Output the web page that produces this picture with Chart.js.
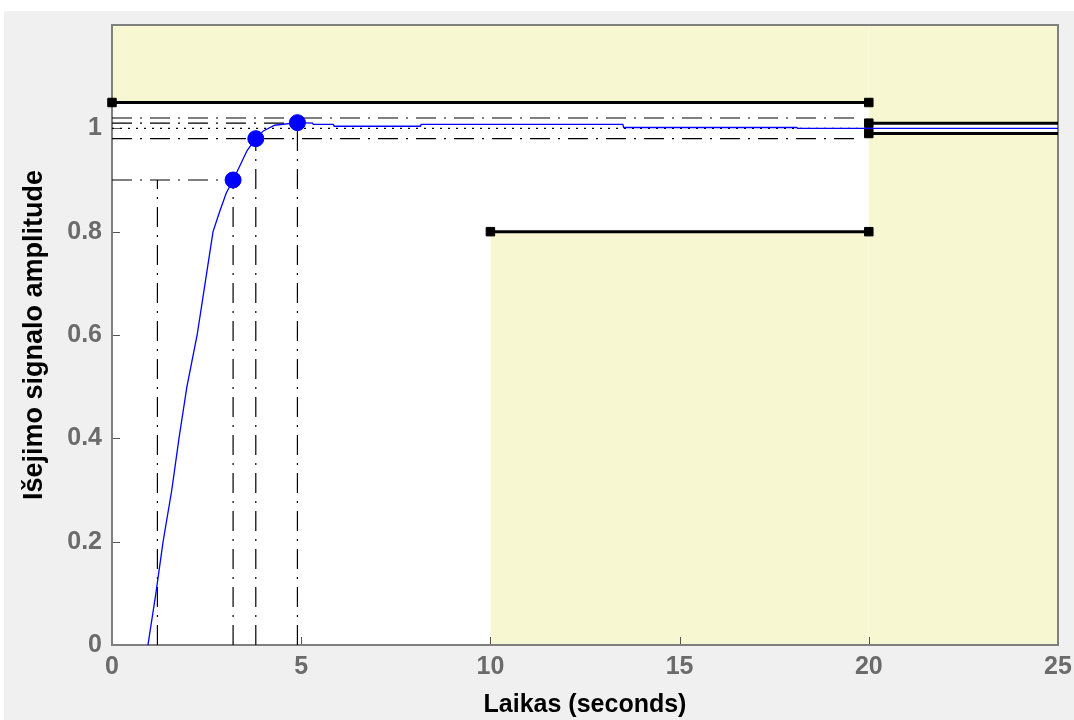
<!DOCTYPE html>
<html>
<head>
<meta charset="utf-8">
<script src="https://cdn.jsdelivr.net/npm/chart.js@4.4.1/dist/chart.umd.min.js"></script>
<style>
  body { margin: 0; background: #fff; width: 1074px; height: 720px; overflow: hidden; position: relative; }
  #wrap { position: absolute; left: 4px; top: 11px; width: 1070px; height: 709px; background: #f0f0f0; }
</style>
</head>
<body>
<div id="wrap"><canvas id="resp" width="1070" height="709"></canvas></div>
<script>
// axis ticks
const xTicks = [0, 5, 10, 15, 20, 25];
const yTicks = [0, 0.2, 0.4, 0.6, 0.8, 1];

// step response
const timeS =     [0.95, 1.16, 1.35, 1.58, 1.77, 1.98, 2.25, 2.46, 2.67, 2.85, 3.02, 3.2, 3.33, 3.57, 3.8, 4.0, 4.3, 4.9, 5.3, 5.32, 5.85, 5.87, 8.15, 8.17, 13.5, 13.52, 18.1, 18.12, 25];
const amplitude = [0,    0.1,  0.2,  0.3,  0.4,  0.5,  0.6,  0.7,  0.8,  0.84, 0.875, 0.9, 0.92, 0.957, 0.98, 0.995, 1.006, 1.011, 1.010, 1.0075, 1.0075, 1.004, 1.004, 1.0075, 1.0075, 1.0016, 1.0016, 1.0, 1.0];

// characteristic points (rise / settling / peak)
const markerTime = [3.2, 3.8, 4.9];
const markerAmp = [0.9, 0.98, 1.011];

// horizontal guide lines
const hLevel = [1.02, 1.01, 1.0, 0.98, 0.9];
const hEnd = [19.7, 4.9, 19.7, 19.7, 3.2];
const hDotted = [false, false, true, false, false];

// vertical guide lines
const vTime = [1.2, 3.2, 3.8, 4.9];
const vTop = [0.9, 0.9, 0.98, 1.01];

// signal constraint bounds
const upperStart = [0, 20];
const upperEnd = [20, 25];
const upperAmp = [1.05, 1.01];
const lowerStart = [10, 20];
const lowerEnd = [20, 25];
const lowerAmp = [0.8, 0.99];

const yellow = '#f7f7d2';
const tickColor = '#6b6b6b';
const dashDot = [20, 8, 2, 8];
const dots = [2, 6];
const fontFam = '"Liberation Sans", Arial, sans-serif';

let datasets = [];

datasets.push({
  data: markerTime.map((t, i) => ({x: t, y: markerAmp[i]})),
  showLine: false,
  pointRadius: 8,
  pointBackgroundColor: '#0000ff',
  pointBorderColor: '#0000ff',
  pointBorderWidth: 1
});

datasets.push({
  data: timeS.map((t, i) => ({x: t, y: amplitude[i]})),
  borderColor: '#0000ff',
  borderWidth: 1.3,
  pointRadius: 0,
  tension: 0,
  fill: false
});

for (let i = 0; i < hLevel.length; i++) {
  datasets.push({
    data: [{x: 0, y: hLevel[i]}, {x: hEnd[i], y: hLevel[i]}],
    borderColor: '#000',
    borderWidth: 1.2,
    borderDash: hDotted[i] ? dots : dashDot,
    pointRadius: 0,
    fill: false
  });
}

for (let i = 0; i < vTime.length; i++) {
  datasets.push({
    data: [{x: vTime[i], y: 0}, {x: vTime[i], y: vTop[i]}],
    borderColor: '#000',
    borderWidth: 1.2,
    borderDash: dashDot,
    pointRadius: 0,
    fill: false
  });
}

function boundSet(x0, x1, y, fillTo) {
  // no end handle where the bound runs into the right edge
  const endR = x1 >= 25 ? 0 : 6;
  return {
    data: [{x: x0, y: y}, {x: x1, y: y}],
    borderColor: '#000',
    borderWidth: 3,
    backgroundColor: yellow,
    fill: fillTo,
    clip: false,
    pointStyle: 'rect',
    pointRadius: [6, endR],
    pointBackgroundColor: '#000',
    pointBorderColor: '#000',
    pointBorderWidth: [1, endR ? 1 : 0]
  };
}
for (let i = 0; i < upperAmp.length; i++) datasets.push(boundSet(upperStart[i], upperEnd[i], upperAmp[i], 'end'));
for (let i = 0; i < lowerAmp.length; i++) datasets.push(boundSet(lowerStart[i], lowerEnd[i], lowerAmp[i], 'start'));

const frame = {
  id: 'frame',
  beforeDraw(chart) {
    const a = chart.chartArea, c = chart.ctx;
    c.save();
    c.fillStyle = '#fff';
    c.fillRect(a.left, a.top, a.right - a.left, a.bottom - a.top);
    c.restore();
  },
  beforeDatasetsDraw(chart) {
    const a = chart.chartArea, c = chart.ctx;
    const xs = chart.scales.x, ys = chart.scales.y;
    c.save();
    c.strokeStyle = '#555';
    c.lineWidth = 1;
    c.beginPath();
    xTicks.forEach(v => {
      const px = Math.round(xs.getPixelForValue(v)) + 0.5;
      c.moveTo(px, a.bottom); c.lineTo(px, a.bottom - 8);
    });
    yTicks.forEach(v => {
      const py = Math.round(ys.getPixelForValue(v)) + 0.5;
      c.moveTo(a.left, py); c.lineTo(a.left + 8, py);
    });
    c.stroke();
    c.strokeStyle = '#808080';
    c.lineWidth = 2;
    c.strokeRect(a.left, a.top, a.right - a.left, a.bottom - a.top);
    c.restore();
  }
};

new Chart(document.getElementById('resp'), {
  type: 'line',
  data: { datasets: datasets },
  plugins: [frame],
  options: {
    responsive: false,
    animation: false,
    devicePixelRatio: 1,
    layout: { padding: { left: 0, top: 14, right: 16, bottom: 0 } },
    plugins: {
      legend: { display: false },
      tooltip: { enabled: false },
      filler: { drawTime: 'beforeDatasetsDraw' }
    },
    scales: {
      x: {
        type: 'linear',
        min: 0, max: 25,
        afterBuildTicks: s => { s.ticks = xTicks.map(v => ({value: v})); },
        afterFit: s => { s.height = 75; s.paddingLeft = 0; s.paddingRight = 0; },
        grid: { display: false, drawTicks: false },
        border: { display: false },
        ticks: { color: tickColor, padding: 7, maxRotation: 0, autoSkip: false,
                 font: { family: fontFam, size: 25, weight: 'bold' } },
        title: { display: true, text: 'Laikas (seconds)', color: '#000',
                 font: { family: fontFam, size: 25, weight: 'bold' },
                 padding: { top: 0, bottom: 0 } }
      },
      y: {
        type: 'linear',
        min: 0, max: 1.2,
        afterBuildTicks: s => { s.ticks = yTicks.map(v => ({value: v})); },
        afterFit: s => { s.width = 108; s.paddingTop = 0; s.paddingBottom = 0; },
        grid: { display: false, drawTicks: false },
        border: { display: false },
        ticks: { color: tickColor, padding: 10, callback: v => String(v),
                 font: { family: fontFam, size: 25, weight: 'bold' } },
        title: { display: true, text: 'Išejimo signalo amplitude', color: '#000',
                 font: { family: fontFam, size: 27, weight: 'bold' },
                 padding: { top: 14, bottom: 0 } }
      }
    }
  }
});
</script>
</body>
</html>
